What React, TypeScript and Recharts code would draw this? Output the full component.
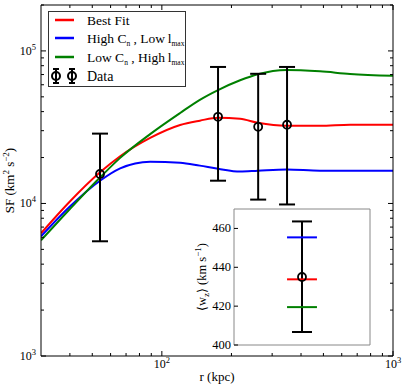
import React from 'react';
import { ComposedChart, Line, Scatter, ErrorBar, XAxis, YAxis, Legend } from 'recharts';

const FONT = '"Liberation Serif", "DejaVu Serif", serif';
const RED = '#ff0000';
const BLUE = '#0000ff';
const GREEN = '#008000';

// model structure functions, sampled in r (kpc)
const radius = [30, 40, 54, 66, 89, 120, 146, 175, 218, 260, 347, 483, 652, 1000];
const bestFit = [6370, 10300, 16000, 20400, 26900, 32700, 34900, 36500, 35900, 33800, 32300, 32300, 32800, 32800];
const highCnLowLmax = [6090, 9560, 14100, 17000, 18800, 18500, 17700, 16900, 16200, 16400, 16700, 16400, 16400, 16400];
const lowCnHighLmax = [5730, 9200, 14800, 19900, 28500, 39200, 47800, 55400, 64200, 70400, 75100, 73500, 70700, 68700];

// measured SF with asymmetric error bars
const dataR = [54, 175, 261, 348];
const dataSF = [15600, 37000, 31800, 32800];
const dataLow = [5650, 14100, 10600, 9850];
const dataHigh = [28700, 78500, 70800, 78500];

const xMajor = [100, 1000];
const xMinor = [40, 50, 60, 70, 80, 90, 200, 300, 400, 500, 600, 700, 800, 900];
const yMajor = [1000, 10000, 100000];
const yMinor = [
  2000, 3000, 4000, 5000, 6000, 7000, 8000, 9000,
  20000, 30000, 40000, 50000, 60000, 70000, 80000, 90000, 200000,
];

// inset: mean w_z (km/s)
const wzTicks = [400, 420, 440, 460];
const wzMean = 435;
const wzLow = 406.7;
const wzHigh = 463.6;
const wzBestFit = 433.8;
const wzHighCn = 455.4;
const wzLowCn = 419.5;
const segmentX = [-0.22, 0.22];

const curves = radius.map((r, i) => ({
  r,
  best: bestFit[i],
  high: highCnLowLmax[i],
  low: lowCnHighLmax[i],
}));

const points = dataR.map((r, i) => ({
  r,
  sf: dataSF[i],
  err: [dataSF[i] - dataLow[i], dataHigh[i] - dataSF[i]],
}));

const xTicks = [...xMajor, ...xMinor].sort((a, b) => a - b);
const yTicks = [...yMajor, ...yMinor].sort((a, b) => a - b);

const wzPoint = [{ x: 0, wz: wzMean, err: [wzMean - wzLow, wzHigh - wzMean] }];
const seg = (v: number) => segmentX.map((x) => ({ x, wz: v }));

const tickLen = (major: boolean) => (major ? 5 : 3);

function Power({ x, y, value, anchor }: any) {
  const exp = Math.round(Math.log10(value));
  return (
    <text x={x} y={y} textAnchor={anchor} fontFamily={FONT} fontSize={12} fill="#000">
      10
      <tspan dy={-5} fontSize={8.5}>{exp}</tspan>
    </text>
  );
}

function BottomTick(props: any) {
  const { x, y, payload } = props;
  const major = xMajor.includes(payload.value);
  return (
    <g>
      <line x1={x} x2={x} y1={y} y2={y - tickLen(major)} stroke="#000" />
      {major && <Power x={x} y={y + 12} value={payload.value} anchor="middle" />}
    </g>
  );
}

function TopTick(props: any) {
  const { x, y, payload } = props;
  const major = xMajor.includes(payload.value);
  return <line x1={x} x2={x} y1={y} y2={y + tickLen(major)} stroke="#000" />;
}

function LeftTick(props: any) {
  const { x, y, payload } = props;
  const major = yMajor.includes(payload.value);
  return (
    <g>
      <line x1={x} x2={x + tickLen(major)} y1={y} y2={y} stroke="#000" />
      {major && <Power x={x - 5} y={y + 4} value={payload.value} anchor="end" />}
    </g>
  );
}

function RightTick(props: any) {
  const { x, y, payload } = props;
  const major = yMajor.includes(payload.value);
  return <line x1={x} x2={x - tickLen(major)} y1={y} y2={y} stroke="#000" />;
}

function InsetLeftTick(props: any) {
  const { x, y, payload } = props;
  return (
    <g>
      <line x1={x} x2={x + 4} y1={y} y2={y} stroke="#000" />
      <text x={x - 3} y={y + 4} textAnchor="end" fontFamily={FONT} fontSize={12.5} fill="#000">
        {payload.value}
      </text>
    </g>
  );
}

function InsetRightTick(props: any) {
  const { x, y } = props;
  return <line x1={x} x2={x - 4} y1={y} y2={y} stroke="#000" />;
}

function XLabel(props: any) {
  const vb = props.viewBox;
  return (
    <text x={vb.x + vb.width / 2} y={vb.y + vb.height - 7} textAnchor="middle" fontFamily={FONT} fontSize={13} fill="#000">
      r (kpc)
    </text>
  );
}

function YLabel(props: any) {
  const vb = props.viewBox;
  const cx = 14;
  const cy = vb.y + vb.height / 2;
  return (
    <text x={cx} y={cy} transform={`rotate(-90, ${cx}, ${cy})`} textAnchor="middle" fontFamily={FONT} fontSize={13} fill="#000">
      SF (km
      <tspan dy={-5} fontSize={9}>2</tspan>
      <tspan dy={5}> s</tspan>
      <tspan dy={-5} fontSize={9}>−2</tspan>
      <tspan dy={5}>)</tspan>
    </text>
  );
}

function InsetYLabel(props: any) {
  const vb = props.viewBox;
  const lx = 16;
  const ly = vb.y + vb.height / 2;
  return (
    <text x={lx} y={ly} transform={`rotate(-90, ${lx}, ${ly})`} textAnchor="middle" fontFamily={FONT} fontSize={12.5} fill="#000">
      ⟨w
      <tspan dy={3} fontSize={9}>z</tspan>
      <tspan dy={-3}>⟩ (km s</tspan>
      <tspan dy={-5} fontSize={9}>−1</tspan>
      <tspan dy={5}>)</tspan>
    </text>
  );
}

const legendRows = [
  { color: RED, parts: [{ t: 'Best Fit' }] },
  { color: BLUE, parts: [{ t: 'High C' }, { t: 'n', sub: true }, { t: ' , Low\u2009l' }, { t: 'max', sub: true }] },
  { color: GREEN, parts: [{ t: 'Low C' }, { t: 'n', sub: true }, { t: ' , High\u2009l' }, { t: 'max', sub: true }] },
];

function DataIcon({ cx, cy }: { cx: number; cy: number }) {
  return (
    <g stroke="#000" strokeWidth={2} fill="none">
      <line x1={cx} x2={cx} y1={cy - 7} y2={cy + 7} />
      <line x1={cx - 3} x2={cx + 3} y1={cy - 7} y2={cy - 7} />
      <line x1={cx - 3} x2={cx + 3} y1={cy + 7} y2={cy + 7} />
      <circle cx={cx} cy={cy} r={4} />
    </g>
  );
}

function LegendBox() {
  const rowY = [8, 26, 45, 64];
  return (
    <div style={{ width: 138, height: 76, border: '1px solid #333', background: '#fff', boxSizing: 'border-box' }}>
      <svg width={136} height={74} style={{ display: 'block' }}>
        {legendRows.map((row, i) => (
          <g key={i}>
            <line x1={6} x2={25} y1={rowY[i]} y2={rowY[i]} stroke={row.color} strokeWidth={2.5} />
            <text x={38} y={rowY[i] + 5} fontFamily={FONT} fontSize={14} fill="#000">
              {row.parts.map((p: any, j) => {
                const prevSub = j > 0 && (row.parts[j - 1] as any).sub;
                const dy = p.sub ? 3 : prevSub ? -3 : 0;
                return (
                  <tspan key={j} dy={dy} fontSize={p.sub ? 7.5 : 13.5}>
                    {p.t}
                  </tspan>
                );
              })}
            </text>
          </g>
        ))}
        <DataIcon cx={7} cy={rowY[3]} />
        <DataIcon cx={23} cy={rowY[3]} />
        <text x={38} y={rowY[3] + 5} fontFamily={FONT} fontSize={14} fill="#000">
          Data
        </text>
      </svg>
    </div>
  );
}

const OpenCircle = (props: any) => (
  <circle cx={props.cx} cy={props.cy} r={4} fill="none" stroke="#000" strokeWidth={1.8} />
);

export default function App() {
  return (
    <div style={{ position: 'absolute', left: 0, top: 0, width: 407, height: 388, background: '#fff' }}>
      <div style={{ position: 'absolute', left: 0, top: 0 }}>
        <ComposedChart width={407} height={388} data={curves} margin={{ top: 0, right: 0, bottom: 0, left: 0 }}>
          <XAxis
            dataKey="r"
            type="number"
            scale="log"
            domain={[30, 1000]}
            allowDataOverflow
            ticks={xTicks}
            interval={0}
            tick={BottomTick}
            tickLine={false}
            tickSize={0}
            tickMargin={0}
            axisLine={{ stroke: '#000' }}
            height={32}
            label={XLabel}
          />
          <XAxis
            xAxisId="top"
            orientation="top"
            dataKey="r"
            type="number"
            scale="log"
            domain={[30, 1000]}
            allowDataOverflow
            ticks={xTicks}
            interval={0}
            tick={TopTick}
            tickLine={false}
            tickSize={0}
            tickMargin={0}
            axisLine={{ stroke: '#000' }}
            height={5}
          />
          <YAxis
            type="number"
            scale="log"
            domain={[1000, 200000]}
            allowDataOverflow
            ticks={yTicks}
            interval={0}
            tick={LeftTick}
            tickLine={false}
            tickSize={0}
            tickMargin={0}
            axisLine={{ stroke: '#000' }}
            width={41}
            label={YLabel}
          />
          <YAxis
            yAxisId="right"
            orientation="right"
            type="number"
            scale="log"
            domain={[1000, 200000]}
            allowDataOverflow
            ticks={yTicks}
            interval={0}
            tick={RightTick}
            tickLine={false}
            tickSize={0}
            tickMargin={0}
            axisLine={{ stroke: '#000' }}
            width={14}
          />
          <Line type="monotone" dataKey="best" stroke={RED} strokeWidth={2} dot={false} isAnimationActive={false} />
          <Line type="monotone" dataKey="high" stroke={BLUE} strokeWidth={2} dot={false} isAnimationActive={false} />
          <Line type="monotone" dataKey="low" stroke={GREEN} strokeWidth={2} dot={false} isAnimationActive={false} />
          <Scatter data={points} dataKey="sf" shape={OpenCircle} isAnimationActive={false}>
            <ErrorBar dataKey="err" direction="y" width={8} stroke="#000" strokeWidth={2} isAnimationActive={false} />
          </Scatter>
          <Legend
            layout="vertical"
            align="center"
            verticalAlign="middle"
            content={LegendBox}
            wrapperStyle={{ left: 48, top: 11, width: 138, height: 76 }}
          />
        </ComposedChart>
      </div>

      <div style={{ position: 'absolute', left: 190, top: 200 }}>
        <ComposedChart width={190} height={160} margin={{ top: 8, right: 0, bottom: 14, left: 0 }}>
          <XAxis xAxisId="b" dataKey="x" type="number" domain={[-1, 1]} tick={false} tickLine={false} axisLine={{ stroke: '#888' }} height={1} />
          <XAxis xAxisId="t" orientation="top" dataKey="x" type="number" domain={[-1, 1]} tick={false} tickLine={false} axisLine={{ stroke: '#888' }} height={1} />
          <YAxis
            yAxisId="l"
            type="number"
            domain={[400, 470]}
            ticks={wzTicks}
            interval={0}
            tick={InsetLeftTick}
            tickLine={false}
            tickSize={0}
            tickMargin={0}
            axisLine={{ stroke: '#888' }}
            width={44}
            label={InsetYLabel}
          />
          <YAxis
            yAxisId="r"
            orientation="right"
            type="number"
            domain={[400, 470]}
            ticks={wzTicks}
            interval={0}
            tick={InsetRightTick}
            tickLine={false}
            tickSize={0}
            tickMargin={0}
            axisLine={{ stroke: '#888' }}
            width={10}
          />
          <Scatter xAxisId="b" yAxisId="l" data={wzPoint} dataKey="wz" shape={OpenCircle} isAnimationActive={false}>
            <ErrorBar dataKey="err" direction="y" width={10} stroke="#000" strokeWidth={2} isAnimationActive={false} />
          </Scatter>
          <Line xAxisId="b" yAxisId="l" data={seg(wzHighCn)} dataKey="wz" type="linear" stroke={BLUE} strokeWidth={2} dot={false} isAnimationActive={false} />
          <Line xAxisId="b" yAxisId="l" data={seg(wzBestFit)} dataKey="wz" type="linear" stroke={RED} strokeWidth={2} dot={false} isAnimationActive={false} />
          <Line xAxisId="b" yAxisId="l" data={seg(wzLowCn)} dataKey="wz" type="linear" stroke={GREEN} strokeWidth={2} dot={false} isAnimationActive={false} />
        </ComposedChart>
      </div>
    </div>
  );
}
